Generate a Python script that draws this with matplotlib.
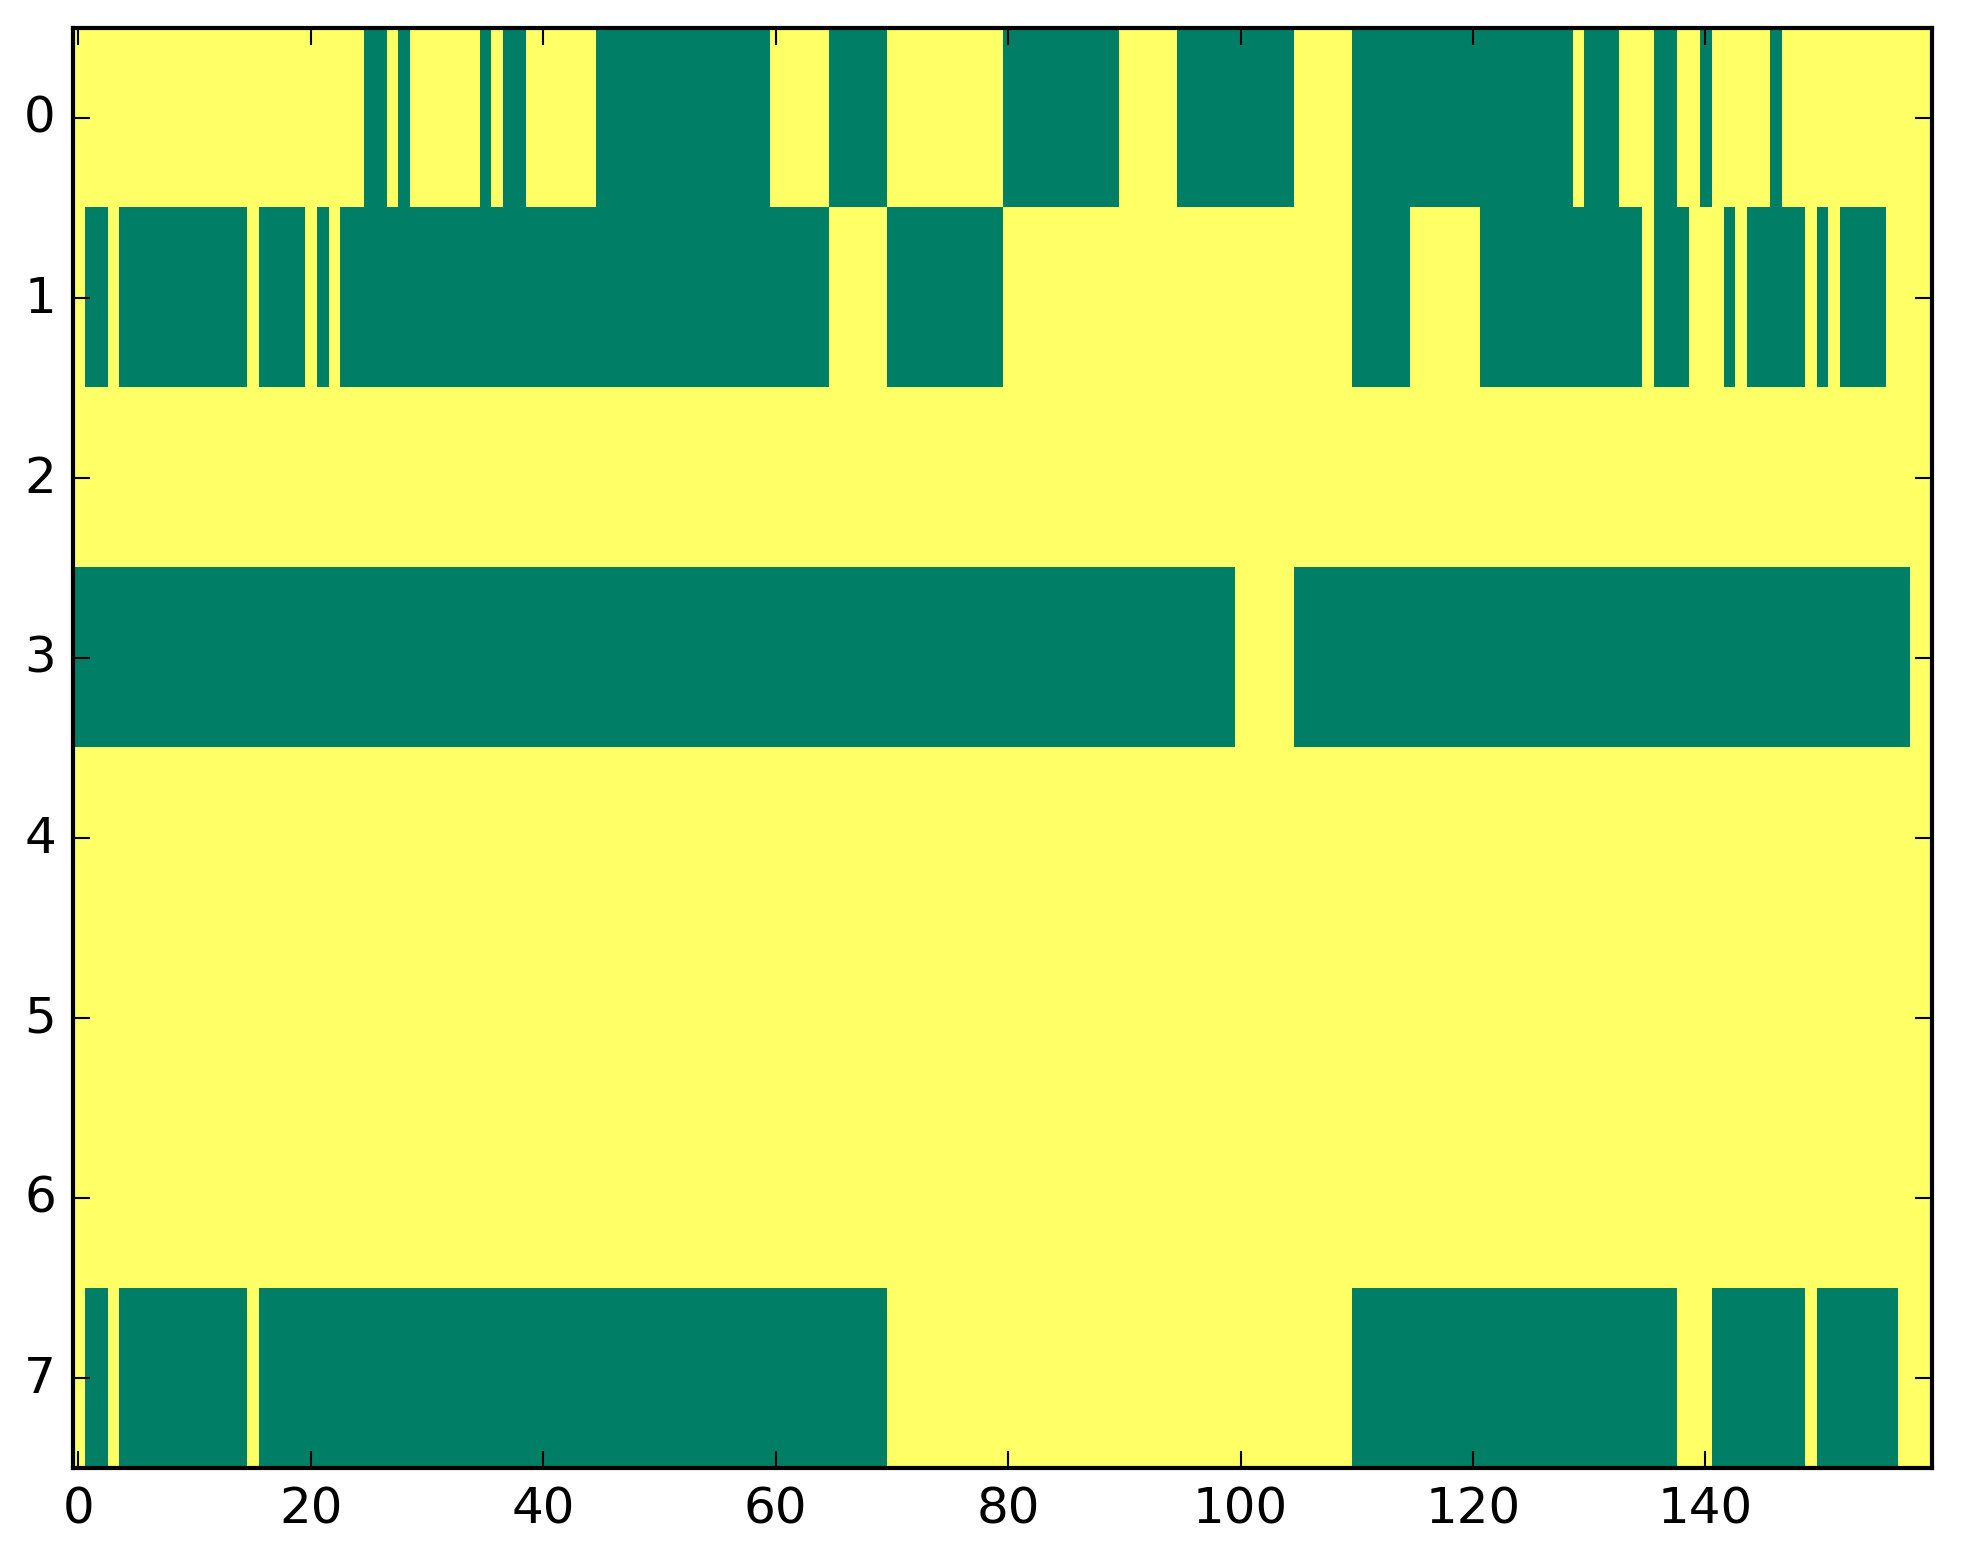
import numpy as np
import matplotlib
matplotlib.use("Agg")
import matplotlib.pyplot as plt

plt.style.use("classic")
plt.rcParams["font.family"] = ["DejaVu Sans"]

# Run-length data per row: (value, run length); 1 = high (yellow), 0 = low (green)
row0_runs = [(1, 25), (0, 2), (1, 1), (0, 1), (1, 6), (0, 1), (1, 1), (0, 2), (1, 6),
             (0, 15), (1, 5), (0, 5), (1, 10), (0, 10), (1, 5), (0, 10), (1, 5),
             (0, 19), (1, 1), (0, 3), (1, 3), (0, 2), (1, 2), (0, 1), (1, 5), (0, 1), (1, 13)]
row1_runs = [(1, 1), (0, 2), (1, 1), (0, 11), (1, 1), (0, 4), (1, 1), (0, 1), (1, 1),
             (0, 42), (1, 5), (0, 10), (1, 30), (0, 5), (1, 6), (0, 14), (1, 1), (0, 3),
             (1, 3), (0, 1), (1, 1), (0, 5), (1, 1), (0, 1), (1, 1), (0, 4), (1, 4)]
row2_runs = [(1, 160)]
row3_runs = [(0, 100), (1, 5), (0, 53), (1, 2)]
row4_runs = [(1, 160)]
row5_runs = [(1, 160)]
row6_runs = [(1, 160)]
row7_runs = [(1, 1), (0, 2), (1, 1), (0, 11), (1, 1), (0, 54), (1, 40), (0, 28),
             (1, 3), (0, 8), (1, 1), (0, 7), (1, 3)]

all_runs = [row0_runs, row1_runs, row2_runs, row3_runs,
            row4_runs, row5_runs, row6_runs, row7_runs]


def expand(runs):
    vals = [v for v, _ in runs]
    lens = [n for _, n in runs]
    return np.repeat(vals, lens)


data = np.array([expand(r) for r in all_runs], dtype=float)

fig = plt.figure(figsize=(1963 / 300, 1564 / 300), dpi=300, facecolor="white")
ax = fig.add_axes([0.037, 0.0607, 0.9472, 0.921])
ax.imshow(data, cmap="summer", vmin=0, vmax=1, aspect="auto",
          interpolation="nearest")
ax.set_xticks([0, 20, 40, 60, 80, 100, 120, 140])
ax.set_yticks(range(8))
ax.set_xlim(-0.5, data.shape[1] - 0.5)
ax.set_ylim(data.shape[0] - 0.5, -0.5)

fig.savefig("out.png", dpi=300, facecolor="white")
